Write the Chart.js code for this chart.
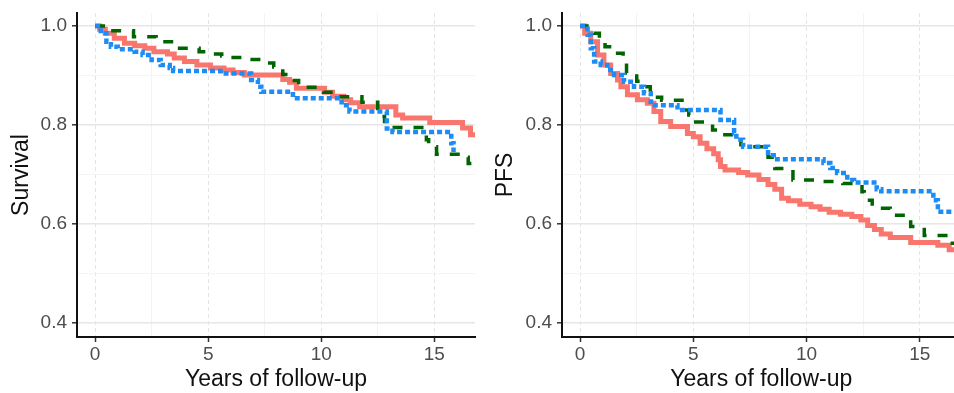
<!DOCTYPE html>
<html>
<head>
<meta charset="utf-8">
<script src="https://cdn.jsdelivr.net/npm/chart.js@4.4.0/dist/chart.umd.min.js"></script>
<style>
  html, body { margin: 0; padding: 0; background: #fff; }
  body { width: 954px; height: 393px; overflow: hidden; position: relative; }
  .panel { position: absolute; top: 0; height: 393px; }
  #leftPanel { left: 0; width: 480px; }
  #rightPanel { left: 480px; width: 482px; }
</style>
</head>
<body>
<div class="panel" id="leftPanel"><canvas id="osChart"></canvas></div>
<div class="panel" id="rightPanel"><canvas id="pfsChart"></canvas></div>
<script>
// axis ticks (minor ticks get a grid line only)
const xTicks = [0, 2.5, 5, 7.5, 10, 12.5, 15];
const xMajor = [0, 5, 10, 15];
const yTicks = [0.4, 0.5, 0.6, 0.7, 0.8, 0.9, 1.0];
const yMajor = [0.4, 0.6, 0.8, 1.0];

// overall survival, group 1 (solid)
const osTime1 = [0, 0.2, 0.45, 0.85, 1.3, 1.75, 2.2, 2.6, 3.2, 3.5, 3.95, 4.5, 5.1, 5.7, 6.1, 6.6, 8.3, 8.6, 8.9, 10.15, 10.5, 11.0, 11.3, 11.7, 13.3, 13.6, 14.8, 16.25, 16.6, 16.9];
const osSurv1 = [1.0, 0.993, 0.985, 0.975, 0.965, 0.96, 0.955, 0.948, 0.943, 0.935, 0.928, 0.921, 0.915, 0.911, 0.906, 0.901, 0.892, 0.886, 0.874, 0.866, 0.858, 0.851, 0.845, 0.837, 0.82, 0.814, 0.805, 0.794, 0.78, 0.78];
// overall survival, group 2 (dashed)
const osTime2 = [0, 0.7, 1.7, 2.7, 3.6, 4.6, 5.1, 5.6, 6.0, 6.5, 7.6, 7.9, 8.3, 8.7, 9.0, 10.1, 10.8, 11.8, 12.5, 12.8, 13.0, 14.65, 14.75, 15.1, 16.2, 16.5, 16.7];
const osSurv2 = [1.0, 0.99, 0.978, 0.968, 0.955, 0.948, 0.943, 0.939, 0.936, 0.932, 0.925, 0.917, 0.902, 0.89, 0.876, 0.866, 0.857, 0.846, 0.817, 0.807, 0.795, 0.77, 0.756, 0.741, 0.735, 0.722, 0.722];
// overall survival, group 3 (dotted)
const osTime3 = [0, 0.25, 0.5, 0.7, 1.0, 1.75, 2.1, 2.5, 2.9, 3.3, 3.45, 5.55, 6.9, 7.2, 7.35, 8.75, 10.9, 11.25, 12.9, 13.15, 15.75, 15.85, 15.95];
const osSurv3 = [1.0, 0.985, 0.968, 0.958, 0.953, 0.948, 0.941, 0.931, 0.921, 0.915, 0.909, 0.904, 0.891, 0.877, 0.867, 0.854, 0.84, 0.827, 0.793, 0.786, 0.763, 0.75, 0.75];

// progression-free survival, group 1 (solid)
const pfsTime1 = [0, 0.2, 0.47, 0.77, 1.05, 1.35, 1.65, 1.8, 2.09, 2.53, 2.97, 3.26, 3.56, 4.0, 4.74, 5.0, 5.3, 5.6, 5.9, 6.1, 6.2, 6.4, 7.0, 7.4, 7.9, 8.3, 8.6, 8.9, 9.2, 9.7, 10.2, 10.6, 11.0, 11.5, 12.0, 12.4, 12.7, 13.0, 13.3, 13.7, 14.6, 15.8, 16.3, 16.6];
const pfsSurv1 = [1.0, 0.985, 0.968, 0.941, 0.921, 0.904, 0.891, 0.877, 0.861, 0.851, 0.844, 0.827, 0.807, 0.797, 0.783, 0.776, 0.763, 0.752, 0.742, 0.73, 0.716, 0.709, 0.704, 0.699, 0.69, 0.68, 0.67, 0.652, 0.647, 0.64, 0.635, 0.63, 0.624, 0.62, 0.615, 0.608, 0.597, 0.589, 0.58, 0.573, 0.563, 0.557, 0.548, 0.548];
// progression-free survival, group 2 (dashed)
const pfsTime2 = [0, 0.3, 0.6, 0.85, 1.1, 1.4, 1.9, 2.05, 2.5, 2.8, 3.1, 3.3, 3.6, 4.6, 4.8, 5.0, 5.85, 6.1, 6.8, 7.1, 7.6, 8.3, 8.6, 9.4, 10.5, 11.6, 12.45, 12.55, 12.9, 13.7, 14.6, 15.2, 16.35, 16.6];
const pfsSurv2 = [1.0, 0.992, 0.985, 0.97, 0.958, 0.945, 0.93, 0.905, 0.888, 0.877, 0.865, 0.856, 0.85, 0.83, 0.82, 0.806, 0.79, 0.78, 0.774, 0.76, 0.756, 0.735, 0.712, 0.689, 0.686, 0.682, 0.665, 0.648, 0.632, 0.618, 0.595, 0.577, 0.561, 0.561];
// progression-free survival, group 3 (dotted)
const pfsTime3 = [0, 0.33, 0.47, 0.62, 0.91, 1.2, 1.5, 1.94, 2.38, 2.82, 3.12, 3.3, 4.3, 6.2, 6.8, 6.9, 7.2, 8.3, 8.55, 10.75, 11.05, 11.35, 11.8, 12.1, 13.1, 13.3, 15.6, 15.8, 16.6];
const pfsSurv3 = [1.0, 0.982, 0.955, 0.928, 0.921, 0.911, 0.901, 0.887, 0.877, 0.864, 0.847, 0.84, 0.83, 0.81, 0.784, 0.77, 0.756, 0.739, 0.731, 0.723, 0.713, 0.703, 0.689, 0.684, 0.67, 0.666, 0.648, 0.625, 0.625];

const fontFamily = '"Liberation Sans", Arial, sans-serif';

const isIn = (list, v) => list.some(m => Math.abs(m - v) < 1e-6);

const toPoints = (times, surv) => times.map((t, i) => ({ x: t, y: surv[i] }));

// one Kaplan-Meier panel
const createChart = (canvasId, yTitle, axisWidth, titlePad, rightPad, series) => {
    const ctx = document.getElementById(canvasId).getContext('2d');
    new Chart(ctx, {
        type: 'line',
        data: {
            // dotted first so it is painted on top, solid at the bottom
            datasets: [
                {
                    label: 'Group 3',
                    data: toPoints(series[2][0], series[2][1]),
                    borderColor: '#1E8CF5',
                    borderWidth: 4.5,
                    borderDash: [5, 3],
                    stepped: true
                },
                {
                    label: 'Group 2',
                    data: toPoints(series[1][0], series[1][1]),
                    borderColor: '#006400',
                    borderWidth: 3.5,
                    borderDash: [10, 11],
                    stepped: true
                },
                {
                    label: 'Group 1',
                    data: toPoints(series[0][0], series[0][1]),
                    borderColor: '#F8766D',
                    borderWidth: 5,
                    stepped: true
                }
            ]
        },
        options: {
            responsive: true,
            maintainAspectRatio: false,
            animation: false,
            events: [],
            elements: { point: { radius: 0 } },
            layout: { padding: { left: 0, right: rightPad, top: 13, bottom: 0 } },
            plugins: {
                legend: { display: false },
                tooltip: { enabled: false }
            },
            scales: {
                x: {
                    type: 'linear',
                    min: -0.8,
                    max: 16.8,
                    afterBuildTicks: (scale) => { scale.ticks = xTicks.map(v => ({ value: v })); },
                    afterFit: (scale) => {
                        scale.height = 56;
                        scale.paddingLeft = 0;
                        scale.paddingRight = 0;
                    },
                    ticks: {
                        autoSkip: false,
                        maxRotation: 0,
                        padding: 1,
                        color: '#4D4D4D',
                        font: { family: fontFamily, size: 19 },
                        callback: (v) => isIn(xMajor, v) ? String(v) : ''
                    },
                    grid: {
                        color: (c) => c.tick && isIn(xMajor, c.tick.value) ? '#E4E4E4' : '#F3F3F3',
                        lineWidth: 1,
                        tickLength: 5,
                        tickWidth: 1.5,
                        tickColor: (c) => c.tick && isIn(xMajor, c.tick.value) ? '#333333' : 'rgba(0,0,0,0)'
                    },
                    border: {
                        color: '#111111',
                        width: 2,
                        dash: (c) => c.tick && isIn(xMajor, c.tick.value) ? [4, 3] : []
                    },
                    title: {
                        display: true,
                        text: 'Years of follow-up',
                        color: '#111111',
                        font: { family: fontFamily, size: 23 },
                        padding: { top: 0, bottom: 0 }
                    }
                },
                y: {
                    type: 'linear',
                    min: 0.372,
                    max: 1.026,
                    afterBuildTicks: (scale) => { scale.ticks = yTicks.map(v => ({ value: v })); },
                    afterFit: (scale) => {
                        scale.width = axisWidth;
                        scale.paddingTop = 0;
                        scale.paddingBottom = 0;
                    },
                    ticks: {
                        autoSkip: false,
                        padding: 5,
                        color: '#4D4D4D',
                        font: { family: fontFamily, size: 19 },
                        callback: (v) => isIn(yMajor, v) ? v.toFixed(1) : ''
                    },
                    grid: {
                        color: (c) => c.tick && isIn(yMajor, c.tick.value) ? '#E6E6E6' : '#F4F4F4',
                        lineWidth: (c) => c.tick && isIn(yMajor, c.tick.value) ? 1.6 : 1,
                        tickLength: 5,
                        tickWidth: 1.5,
                        tickColor: (c) => c.tick && isIn(yMajor, c.tick.value) ? '#333333' : 'rgba(0,0,0,0)'
                    },
                    border: { color: '#111111', width: 2 },
                    title: {
                        display: true,
                        text: yTitle,
                        color: '#111111',
                        font: { family: fontFamily, size: 23 },
                        padding: { top: titlePad, bottom: 0 }
                    }
                }
            }
        }
    });
};

createChart('osChart', 'Survival', 77, 8, 5, [
    [osTime1, osSurv1], [osTime2, osSurv2], [osTime3, osSurv3]
]);
createChart('pfsChart', 'PFS', 82, 12, 1.5, [
    [pfsTime1, pfsSurv1], [pfsTime2, pfsSurv2], [pfsTime3, pfsSurv3]
]);
</script>
</body>
</html>
